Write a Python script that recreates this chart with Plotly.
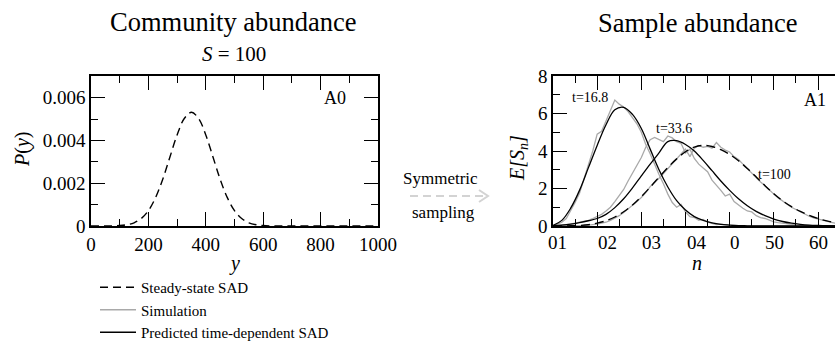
import plotly.graph_objects as go

W, H = 835, 342

# ---------------- data ----------------
# Community abundance (left panel): steady-state SAD P(y)
pop_y = [0, 25, 50, 75, 100, 125, 150, 175, 200, 225, 250, 275, 300, 325, 350,
         375, 400, 425, 450, 475, 500, 525, 550, 575, 600, 625, 650, 675, 700,
         725, 750, 775, 800, 825, 850, 875, 900, 925, 950, 975, 1000]
pop_p = [0, 0, 0.000002, 0.000006, 0.00002, 0.00006, 0.00015, 0.00035, 0.00072,
         0.00133, 0.00219, 0.00323, 0.00426, 0.00503, 0.00532, 0.00503, 0.00426,
         0.00323, 0.00219, 0.00133, 0.00072, 0.00035, 0.00015, 0.00006, 0.00002,
         0.000006, 0.000002, 0, 0, 0, 0, 0, 0, 0, 0, 0, 0, 0, 0, 0, 0]

# Sample abundance (right panel)
n_even = list(range(0, 65, 2))
steady_sample = [0.0, 0.0, 0.01, 0.03, 0.07, 0.15, 0.28, 0.48, 0.76, 1.12, 1.57,
                 2.07, 2.6, 3.12, 3.58, 3.96, 4.21, 4.3, 4.24, 4.07, 3.82, 3.48,
                 3.07, 2.62, 2.15, 1.72, 1.34, 1.03, 0.78, 0.57, 0.4, 0.27, 0.18]
pred_t168 = [0.03, 0.3, 0.95, 1.9, 3.1, 4.3, 5.4, 6.2, 6.33, 5.95, 5.2, 4.1, 3.0,
             2.08, 1.35, 0.85, 0.5, 0.3, 0.17, 0.09, 0.05, 0.02, 0.01,
             0, 0, 0, 0, 0, 0, 0, 0, 0, 0]
pred_t336 = [0.02, 0.05, 0.1, 0.18, 0.28, 0.4, 0.62, 0.98, 1.45, 2.03, 2.67, 3.3,
             3.9, 4.5, 4.55, 4.35, 4.0, 3.5, 2.95, 2.4, 1.9, 1.45, 1.08, 0.78,
             0.55, 0.37, 0.24, 0.15, 0.09, 0.05, 0.03, 0.02, 0.01]

n_all = list(range(0, 65))
sim_t168 = [0.0, 0.1, 0.2, 0.4, 0.8, 1.25, 1.75, 2.5, 3.3, 4.0, 4.9, 5.05, 5.6,
            6.2, 6.72, 6.5, 6.35, 6.1, 5.75, 5.45, 5.0, 4.35, 3.85, 3.25, 2.75,
            2.25, 1.7, 1.25, 1.0, 1.15, 0.75, 0.5, 0.45, 0.3, 0.35, 0.2, 0.15,
            0.08, 0.1, 0.05, 0.03, 0.02, 0.01,
            0, 0, 0, 0, 0, 0, 0, 0, 0, 0, 0, 0, 0, 0, 0, 0, 0, 0, 0, 0, 0, 0]
sim_t336 = [0.0, 0.02, 0.05, 0.08, 0.1, 0.15, 0.2, 0.25, 0.3, 0.4, 0.5, 0.62, 0.8,
            1.0, 1.3, 1.6, 1.95, 2.4, 2.8, 3.2, 3.65, 4.2, 4.6, 4.72, 4.6, 4.5,
            4.8, 4.7, 4.5, 4.4, 3.9, 4.1, 3.6, 3.3, 3.1, 2.9, 2.45, 2.2, 1.9,
            1.6, 1.7, 1.3, 1.1, 0.95, 0.8, 0.75, 0.55, 0.45, 0.4, 0.3, 0.22,
            0.18, 0.14, 0.1, 0.08, 0.06, 0.05, 0.03, 0.02, 0.01, 0, 0, 0, 0, 0]
sim_t100 = [0, 0, 0, 0, 0.01, 0.01, 0.02, 0.03, 0.05, 0.07, 0.1, 0.15, 0.2, 0.3,
            0.42, 0.55, 0.72, 0.9, 1.1, 1.3, 1.52, 1.78, 2.1, 2.3, 2.55, 2.8,
            3.05, 3.3, 3.55, 3.85, 4.1, 3.7, 4.15, 4.3, 4.2, 4.25, 4.15, 4.45,
            4.2, 4.05, 3.95, 3.7, 3.55, 3.3, 3.05, 2.85, 2.6, 2.35, 2.15, 1.9,
            1.7, 1.5, 1.32, 1.15, 1.0, 0.88, 0.75, 0.62, 0.52, 0.43, 0.36, 0.3,
            0.24, 0.19, 0.15]

left_xticks = [0, 200, 400, 600, 800, 1000]
right_xtick_vals = [0, 10, 20, 30, 40, 50, 60]
right_xtick_text = ["01", "02", "03", "04", "0", "50", "60"]
right_xtick_label_pos = [1.1, 12.3, 22.4, 32.6, 41.2, 50.2, 60.0]

FONT = "Liberation Serif, Times New Roman, DejaVu Serif, serif"
GREY = "#a9a9a9"

def px(x):
    return x / W

def py(y):
    return 1 - y / H

fig = go.Figure()

# left panel
fig.add_trace(go.Scatter(x=pop_y, y=pop_p, mode="lines", xaxis="x", yaxis="y",
                         line=dict(color="black", width=1.4, dash="8px,5px", shape="spline"),
                         name="Steady-state SAD", legendrank=1, showlegend=True))
# right panel
fig.add_trace(go.Scatter(x=n_all, y=sim_t168, mode="lines", xaxis="x2", yaxis="y2",
                         line=dict(color=GREY, width=1.3), name="Simulation",
                         legendrank=2, showlegend=True))
fig.add_trace(go.Scatter(x=n_all, y=sim_t336, mode="lines", xaxis="x2", yaxis="y2",
                         line=dict(color=GREY, width=1.3), showlegend=False))
fig.add_trace(go.Scatter(x=n_all, y=sim_t100, mode="lines", xaxis="x2", yaxis="y2",
                         line=dict(color=GREY, width=1.3), showlegend=False))
fig.add_trace(go.Scatter(x=n_even, y=steady_sample, mode="lines", xaxis="x2", yaxis="y2",
                         line=dict(color="black", width=1.4, dash="9px,5px", shape="spline"),
                         showlegend=False))
fig.add_trace(go.Scatter(x=n_even, y=pred_t168, mode="lines", xaxis="x2", yaxis="y2",
                         line=dict(color="black", width=1.3, shape="spline"),
                         name="Predicted time-dependent SAD", legendrank=3, showlegend=True))
fig.add_trace(go.Scatter(x=n_even, y=pred_t336, mode="lines", xaxis="x2", yaxis="y2",
                         line=dict(color="black", width=1.3, shape="spline"),
                         showlegend=False))

tickfont = dict(family=FONT, size=19, color="black")
common = dict(showline=True, linecolor="black", linewidth=1.5, ticks="inside",
              ticklen=14, tickwidth=1, tickcolor="black", showgrid=False,
              zeroline=False, tickfont=tickfont, automargin=False)

fig.update_layout(
    width=W, height=H, margin=dict(l=0, r=0, t=0, b=0, autoexpand=False),
    paper_bgcolor="white", plot_bgcolor="white",
    xaxis=dict(domain=[px(91), px(378)], range=[0, 1000], anchor="y",
               tickvals=left_xticks, mirror="ticks", ticklabelstandoff=0,
               minor=dict(dtick=100, ticklen=7, ticks="inside", tickcolor="black"),
               **common),
    yaxis=dict(domain=[py(226), py(76)], range=[0, 0.00702], anchor="x",
               dtick=0.002, tick0=0, mirror="ticks",
               minor=dict(dtick=0.001, ticklen=7, ticks="inside", tickcolor="black"),
               **common),
    xaxis2=dict(domain=[px(553), 1.0], range=[0, 63.85], anchor="y2",
                tickvals=right_xtick_vals, showticklabels=False, mirror="ticks",
                minor=dict(dtick=5, ticklen=7, ticks="inside", tickcolor="black"),
                **common),
    yaxis2=dict(domain=[py(226), py(76)], range=[0, 8], anchor="x2",
                dtick=2, tick0=0, mirror=False,
                minor=dict(dtick=1, ticklen=7, ticks="inside", tickcolor="black"),
                **common),
    yaxis3=dict(overlaying="y2", side="right", anchor="free", position=1.0,
                range=[0, 8], dtick=2, showline=False, showgrid=False, zeroline=False,
                ticks="inside", ticklen=8, tickcolor="black", showticklabels=False,
                automargin=False,
                minor=dict(dtick=1, ticklen=2, ticks="inside", tickcolor="black")),
    legend=dict(x=px(95), y=py(271), xanchor="left", yanchor="top",
                font=dict(family=FONT, size=15, color="black"),
                bgcolor="rgba(0,0,0,0)", itemwidth=36, traceorder="normal"),
    showlegend=True,
)

def ann(text, x, y, size, angle=0):
    fig.add_annotation(text=text, x=px(x), y=py(y), xref="paper", yref="paper",
                       showarrow=False, xanchor="center", yanchor="middle",
                       textangle=angle,
                       font=dict(family=FONT, size=size, color="black"))

ann("Community abundance", 233, 22, 26.5)
ann("<i>S</i> = 100", 234, 54, 21)
ann("Sample abundance", 697, 23, 26.5)
ann("A0", 335, 98, 18)
ann("A1", 815, 100, 18)
ann("<i>y</i>", 234, 263, 20)
ann("<i>n</i>", 697, 263, 20)
ann("<i>P</i>(<i>y</i>)", 22, 150, 20, -90)
ann("<i>E[S<sub>n</sub>]</i>", 518, 158, 20, -90)
ann("t=16.8", 590, 97, 14)
ann("t=33.6", 674, 128, 14)
ann("t=100", 774, 174, 14)
ann("Symmetric", 440, 178, 17)
ann("sampling", 444, 212, 17)

# garbled-looking tick labels of the sample-abundance axis, placed on the n scale
for pos, txt in zip(right_xtick_label_pos, right_xtick_text):
    fig.add_annotation(text=txt, x=pos, y=py(242), xref="x2", yref="paper",
                       showarrow=False, xanchor="center", yanchor="middle",
                       font=tickfont)

# dashed grey arrow between panels
fig.add_shape(type="line", xref="paper", yref="paper",
              x0=px(410), y0=py(196), x1=px(486), y1=py(196),
              line=dict(color="#d3d3d3", width=2, dash="8px,5px"))
fig.add_shape(type="path", xref="paper", yref="paper",
              path=f"M {px(479)},{py(190)} L {px(488)},{py(196)} L {px(479)},{py(202)}",
              line=dict(color="#d3d3d3", width=2))

fig.write_html("out.html")
